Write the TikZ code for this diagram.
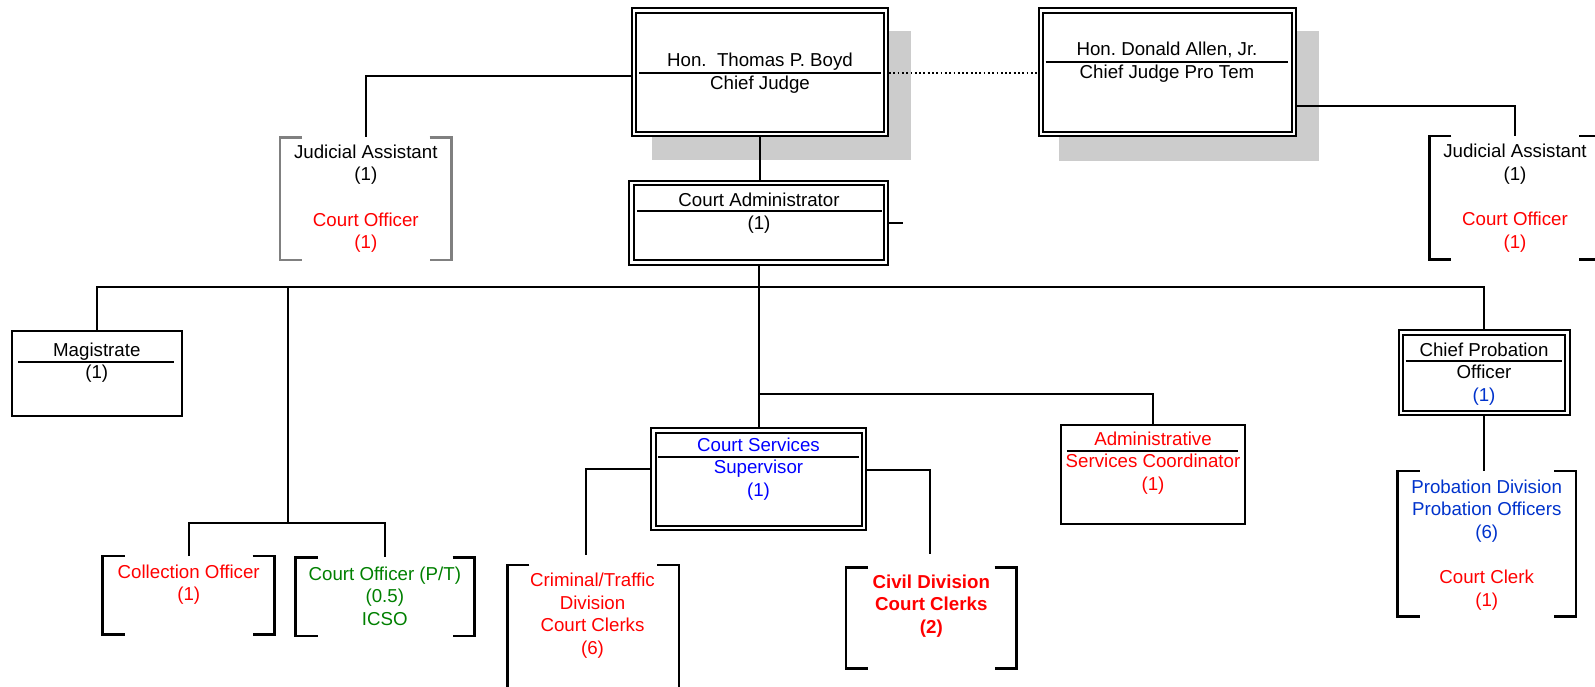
\documentclass[tikz,border=0pt]{standalone}
\usepackage{fontspec}
\setmainfont{Liberation Sans}
\usetikzlibrary{calc}
\frenchspacing
\pgfdeclarelayer{bg}
\pgfsetlayers{bg,main}
\definecolor{shadeg}{RGB}{204,204,204}
\definecolor{pblue}{RGB}{0,51,204}
\definecolor{ogreen}{RGB}{0,128,0}
\definecolor{bgray}{RGB}{128,128,128}
\newcommand{\mystack}[1]{\begin{tabular}[t]{@{}c@{}}#1\end{tabular}}
\newcommand{\mybracket}[2]{%
  \draw[brline,draw=#2] ([xshift=22pt]#1.north west) -- (#1.north west) -- (#1.south west) -- ([xshift=22pt]#1.south west);
  \draw[brline,draw=#2] ([xshift=-22pt]#1.north east) -- (#1.north east) -- (#1.south east) -- ([xshift=-22pt]#1.south east);}
\newcommand{\myshadow}[1]{%
  \begin{pgfonlayer}{bg}
  \fill[shadeg] ([shift={(21.5pt,-23.5pt)}]#1.south west) rectangle ([shift={(21.5pt,-23.5pt)}]#1.north east);
  \end{pgfonlayer}}
\begin{document}
\begin{tikzpicture}[x=1pt,y=-1pt,
  dbox/.style={rectangle, draw=black, fill=white, line width=2pt, double=white, double distance=2.4pt, inner sep=0pt, outer sep=3.2pt},
  sbox/.style={rectangle, draw=black, fill=white, line width=2pt, inner sep=0pt, outer sep=1pt},
  brkbox/.style={rectangle, inner sep=0pt, outer sep=0pt},
  brline/.style={line width=2.5pt, line join=miter},
  conn/.style={draw=black, line width=2pt},
  divline/.style={draw=black, line width=2pt},
  dotline/.style={draw=black, line width=2pt, dash pattern=on 1.8pt off 2.5pt},
  txt/.style={inner sep=0pt, outer sep=0pt, anchor=base, font=\fontsize{18.7}{22.6}\selectfont}]
\begin{pgfonlayer}{bg}
\fill[white] (0,0) rectangle (1595,687);
\end{pgfonlayer}
\useasboundingbox (0,0) rectangle (1595,687);

% boxes
\node[dbox, minimum width=251.9pt, minimum height=123.3pt] (cj) at (759.85,72.15) {};
\myshadow{cj}
\node[dbox, minimum width=253.1pt, minimum height=123.6pt] (da) at (1167.25,72.5) {};
\myshadow{da}
\node[dbox, minimum width=254.6pt, minimum height=79.3pt] (ca) at (758.8,222.85) {};
\node[dbox, minimum width=210.2pt, minimum height=97.3pt] (css) at (758.7,479.15) {};
\node[dbox, minimum width=166.6pt, minimum height=80.3pt] (cpo) at (1484.2,372.65) {};
\node[sbox, minimum width=169.5pt, minimum height=84.5pt] (mag) at (96.85,373.35) {};
\node[sbox, minimum width=183.8pt, minimum height=98.8pt] (asc) at (1153,474.5) {};

% bracket groups
\node[brkbox, minimum width=171.7pt, minimum height=122.7pt] (jaL) at (365.85,198.65) {};
\node[brkbox, minimum width=171.7pt, minimum height=123.5pt] (jaR) at (1515.15,197.75) {};
\node[brkbox, minimum width=171.9pt, minimum height=78.3pt] (coll) at (188.55,595.15) {};
\node[brkbox, minimum width=179.1pt, minimum height=78.7pt] (copt) at (385.05,596.65) {};
\node[brkbox, minimum width=171.7pt, minimum height=140pt] (crim) at (593.15,635) {};
\node[brkbox, minimum width=170.4pt, minimum height=101pt] (civ) at (931.4,617.8) {};
\node[brkbox, minimum width=178.3pt, minimum height=145.7pt] (prob) at (1486.85,543.85) {};
\mybracket{jaL}{bgray}
\mybracket{jaR}{black}
\mybracket{coll}{black}
\mybracket{copt}{black}
\mybracket{crim}{black}
\mybracket{civ}{black}
\mybracket{prob}{black}

% dividers
\draw[divline] (639,73) -- (881,73);
\draw[divline] (1045.5,61.7) -- (1287.7,61.7);
\draw[divline] (637,211) -- (882,211);
\draw[divline] (18.3,361.7) -- (174,361.7);
\draw[divline] (1405.7,360.7) -- (1562,360.7);
\draw[divline] (658.4,456.7) -- (859.2,456.7);
\draw[divline] (1066.8,451) -- (1238,451);

% texts
\node[txt] (cjT) at (760,66.7) {\mystack{Hon.\ \ Thomas P. Boyd\\Chief Judge}};
\node[txt] (daT) at (1167,56) {\mystack{Hon. Donald Allen, Jr.\\Chief Judge Pro Tem}};
\node[txt] (caT) at (759,206.7) {\mystack{Court Administrator\\(1)}};
\node[txt] (jaLT) at (365.8,158.3) {\mystack{Judicial Assistant\\(1)\\ \\\color{red}Court Officer\\\color{red}(1)}};
\node[txt] (jaRT) at (1515,158) {\mystack{Judicial Assistant\\(1)\\ \\\color{red}Court Officer\\\color{red}(1)}};
\node[txt] (magT) at (96.8,356) {\mystack{Magistrate\\(1)}};
\node[txt] (cpoT) at (1484,356) {\mystack{Chief Probation\\Officer\\\color{pblue}(1)}};
\node[txt, text=blue] (cssT) at (758.5,451) {\mystack{Court Services\\Supervisor\\(1)}};
\node[txt, text=red] (ascT) at (1153,445) {\mystack{Administrative\\Services Coordinator\\(1)}};
\node[txt, text=red] (collT) at (188.7,578.3) {\mystack{Collection Officer\\(1)}};
\node[txt, text=ogreen] (coptT) at (384.8,580) {\mystack{Court Officer (P/T)\\(0.5)\\ICSO}};
\node[txt, text=red] (crimT) at (592.5,586.7) {\mystack{Criminal/Traffic\\Division\\Court Clerks\\(6)}};
\node[txt, text=red, font=\fontsize{18.7}{22.6}\selectfont\bfseries] (civT) at (931.3,588.3) {\mystack{Civil Division\\Court Clerks\\(2)}};
\node[txt, text=pblue] (probT) at (1486.7,493.3) {\mystack{Probation Division\\Probation Officers\\(6)\\ \\\color{red}Court Clerk\\\color{red}(1)}};

% free ends and junctions
\coordinate (caStub) at (903,222.85);
\coordinate (bus) at (0,287);
\coordinate (j1) at (288,287);
\coordinate (j2) at (288,523);
\coordinate (j3) at (0,394);
\coordinate (crimEnd) at (586,555);
\coordinate (civEnd) at (929.6,554.3);

% connectors
\draw[conn] ([yshift=-3.5pt]cj.west) -| (jaL.north);
\draw[dotline] ([yshift=-1pt]cj.east) -- ([yshift=-1pt]cj.east -| da.west);
\draw[conn] ([yshift=-33.5pt]da.east) -| (jaR.north);
\draw[conn] (cj.south) -- (cj.south |- ca.north);
\draw[conn] (ca.east) -- (caStub);
\draw[conn] (ca.south) -- (ca.south |- css.north);
\draw[conn] (mag.north) |- (bus -| cpo.north) -- (cpo.north);
\draw[conn] (j1) -- (j2);
\draw[conn] (coll.north) |- (j2) -| (copt.north);
\draw[conn] (css.north |- j3) -| (asc.north);
\draw[conn] ([yshift=10pt]css.west) -| (crimEnd);
\draw[conn] ([yshift=9pt]css.east) -| (civEnd);
\draw[conn] (cpo.south) -- (cpo.south |- prob.north);
\end{tikzpicture}
\end{document}
